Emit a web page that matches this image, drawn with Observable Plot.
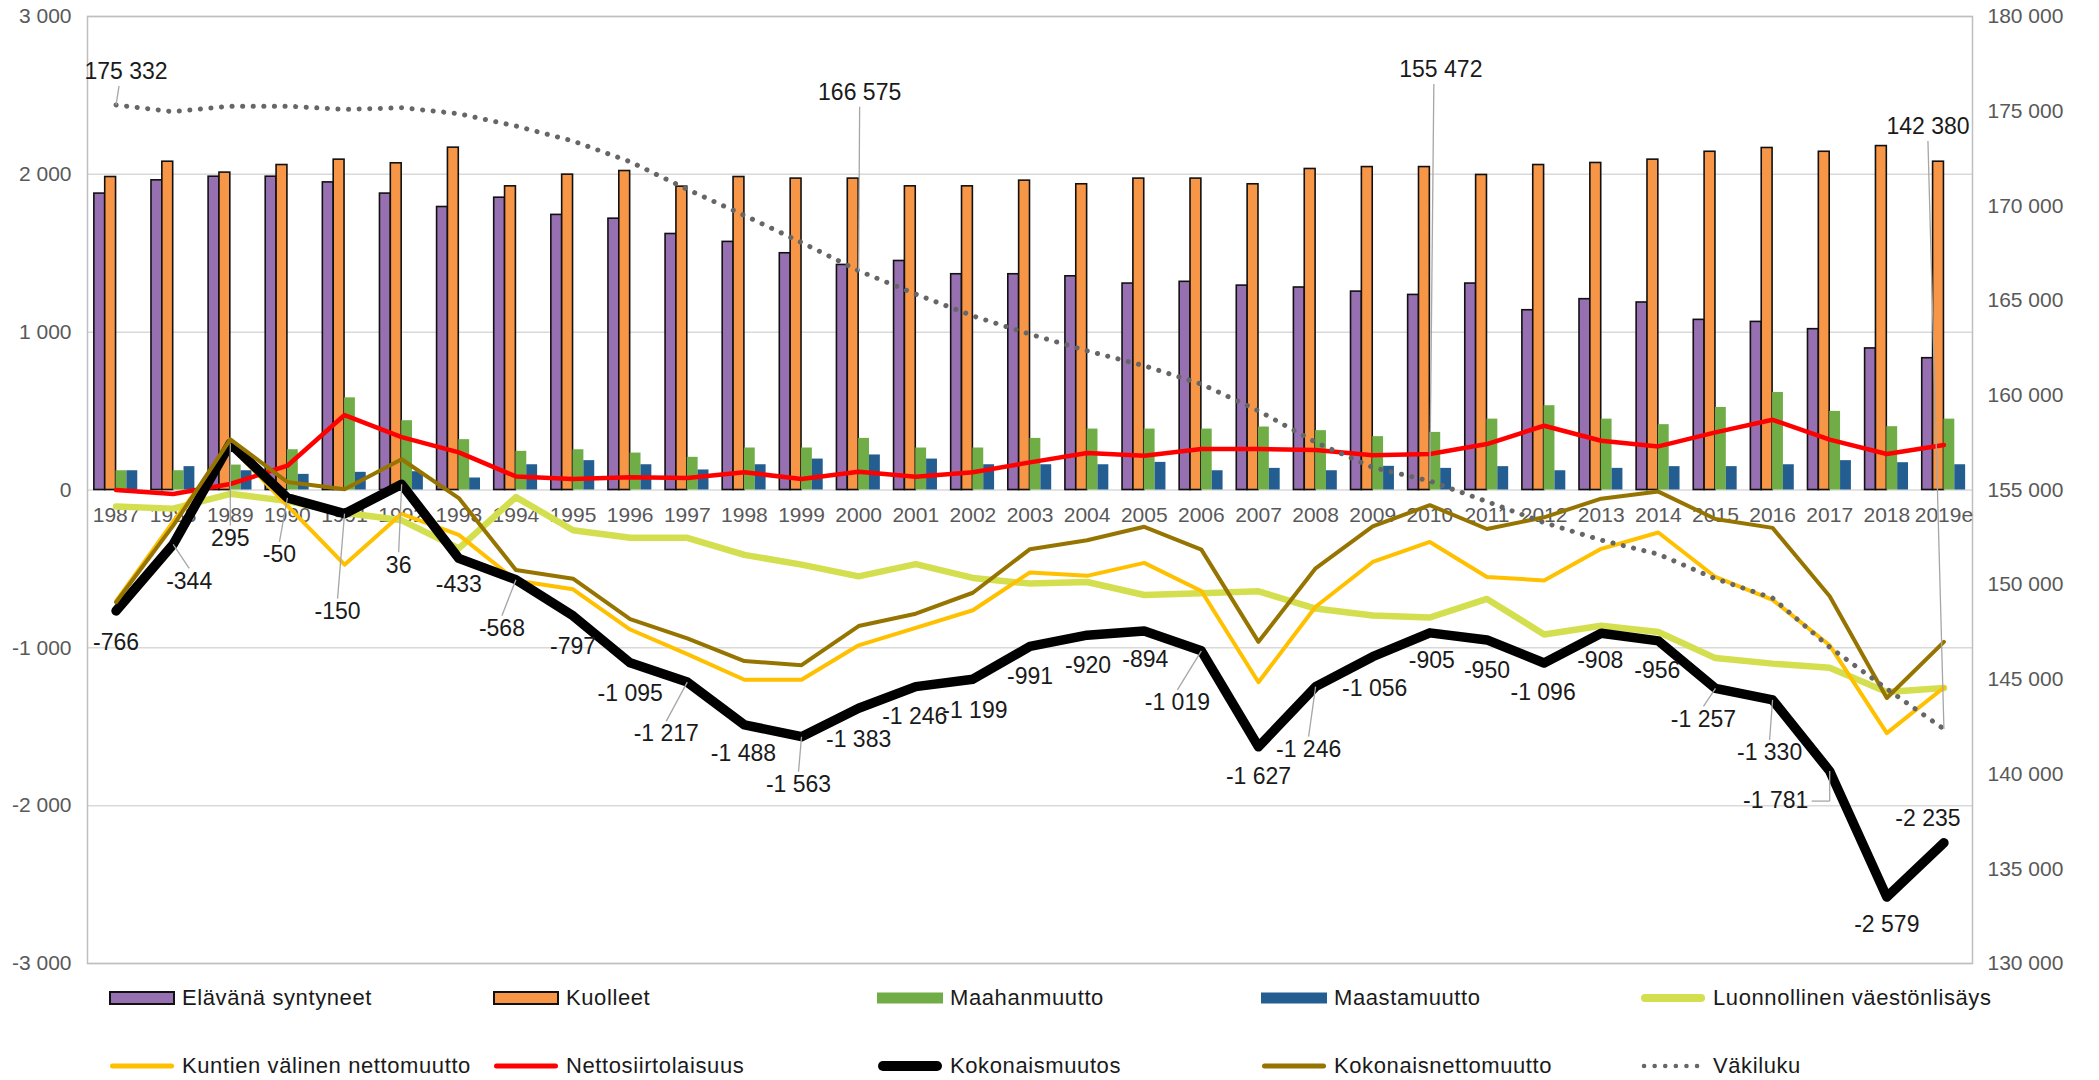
<!DOCTYPE html>
<html>
<head>
<meta charset="utf-8">
<script src="https://cdn.jsdelivr.net/npm/d3@7"></script>
<script src="https://cdn.jsdelivr.net/npm/@observablehq/plot@0.6"></script>
<style>
  html, body { margin: 0; padding: 0; background: #fff; }
  body { font-family: "Liberation Sans", Arial, sans-serif; }
  #wrap { position: relative; width: 2099px; height: 1080px; overflow: hidden; }
  #chart { position: absolute; left: 0; top: 0; }
  .lg-item { position: absolute; height: 30px; display: flex; align-items: center; }
  .lg-text { font-size: 22px; letter-spacing: 0.6px; color: #1a1a1a; white-space: nowrap; margin-left: 7px; }
</style>
</head>
<body>
<div id="wrap"><div id="chart"></div><div id="legend"></div></div>
<script>
// ---------------- DATA ----------------
const years = ["1987","1988","1989","1990","1991","1992","1993","1994","1995","1996","1997",
  "1998","1999","2000","2001","2002","2003","2004","2005","2006","2007","2008","2009",
  "2010","2011","2012","2013","2014","2015","2016","2017","2018","2019e"];

const elavanaSyntyneet = [1878,1962,1985,1985,1949,1878,1793,1852,1743,1719,1622,
  1572,1500,1426,1451,1367,1367,1354,1308,1319,1295,1283,1257,
  1236,1308,1139,1209,1188,1078,1065,1019,897,835];

const kuolleet = [1983,2080,2011,2059,2093,2070,2169,1924,1998,2021,1922,
  1983,1973,1973,1924,1924,1960,1937,1973,1973,1937,2034,2046,
  2046,1996,2059,2072,2093,2143,2167,2143,2179,2080];

const maahanmuutto = [122,122,158,255,584,439,319,245,255,234,207,
  266,266,327,266,266,327,386,386,386,399,376,338,
  365,449,534,449,414,523,618,498,401,449];

const maastamuutto = [122,148,122,99,112,116,76,160,186,160,127,
  160,196,222,196,160,160,160,175,122,137,122,150,
  137,148,122,137,148,148,160,186,173,160];

const luonnollinenLisays = [-105,-118,-24,-70,-144,-192,-370,-45,-255,-302,-303,
  -411,-473,-547,-470,-557,-593,-583,-665,-654,-642,-751,-795,
  -808,-690,-915,-860,-900,-1065,-1100,-1126,-1280,-1255];

const kuntienValinen = [-705,-200,280,-100,-473,-151,-284,-573,-629,-884,-1040,
  -1202,-1202,-984,-873,-762,-522,-544,-462,-640,-1218,-740,-456,
  -329,-551,-573,-373,-269,-551,-696,-984,-1540,-1251];

const nettosiirtolaisuus = [0,-25,38,154,475,335,238,86,70,80,76,
  112,70,116,84,112,175,234,217,260,260,253,220,
  228,291,407,312,276,365,445,319,228,285];

const kokonaismuutos = [-766,-344,295,-50,-150,36,-433,-568,-797,-1095,-1217,
  -1488,-1563,-1383,-1246,-1199,-991,-920,-894,-1019,-1627,-1246,-1056,
  -905,-950,-1096,-908,-956,-1257,-1330,-1781,-2579,-2235];

const kokonaisnettomuutto = [-711,-226,321,50,5,195,-51,-507,-562,-818,-940,
  -1084,-1110,-862,-784,-651,-375,-318,-233,-378,-962,-496,-230,
  -96,-247,-173,-55,-10,-184,-240,-673,-1318,-962];

const vakiluku = [175332,174975,175267,175267,175092,175183,174867,174217,173425,172333,170875,
  169500,168067,166575,165342,164192,163225,162350,161558,160592,159183,157517,156192,
  155472,154389,153278,152352,151611,150315,149296,146700,144500,142380];

const vakilukuLabelled = [0, 13, 23, 32];

const leftTicks = [-3000,-2000,-1000,0,1000,2000,3000];
const rightTicks = [130000,135000,140000,145000,150000,155000,160000,165000,170000,175000,180000];

const seriesNames = ["Elävänä syntyneet","Kuolleet","Maahanmuutto","Maastamuutto","Luonnollinen väestönlisäys",
  "Kuntien välinen nettomuutto","Nettosiirtolaisuus","Kokonaismuutos","Kokonaisnettomuutto","Väkiluku"];

// ---------------- LAYOUT / STYLE ----------------
const W = 2099, H = 975, ML = 87, MR = 127, MT = 16, MB = 12;
const pxX = (W - ML - MR) / years.length;     // px per category
const pxY = (H - MT - MB) / 6000;             // px per unit
// label offsets in px [dx, dy, leader?]
const labelOffsets = [
  [0,32,0],[16,37,1],[0,95,1],[-8,57,1],[-7,98,1],[-3,81,1],[0,26,0],[-14,49,1],[0,31,0],[0,31,0],[-21,52,1],
  [-1,29,0],[-3,48,1],[0,31,0],[-1,30,0],[2,31,0],[0,30,0],[1,30,0],[1,29,0],[-24,52,1],[0,30,0],[-7,63,1],[2,32,0],
  [2,28,0],[0,31,0],[-1,30,0],[-1,27,0],[-1,30,0],[-12,31,1],[-3,53,1],[-54,30,2],[0,28,0],[-16,-24,0]
];
const vakiOffsets = [[10,-33],[1,-178],[11,-411],[-16,-602]];

const colors = {
  purple: "#9670B0", orange: "#F79646", green: "#70AD47", blue: "#245E91",
  lightgreen: "#D4DF4F", yellow: "#FFC000", red: "#FF0000", black: "#000000",
  brown: "#967400", grey: "#666666"
};

// ---------------- HELPERS ----------------
const locale = d3.formatLocale({decimal: ",", thousands: "\u00a0", grouping: [3], currency: ["", " €"], minus: "-"});
const fmt = locale.format(",d");
const toLeft = v => (v - 155000) * 3 / 25;
const fromLeft = d => Math.round(155000 + d * 25 / 3);

const rows = years.map((y, i) => ({
  i, year: y,
  syn: elavanaSyntyneet[i], kuo: kuolleet[i], maa: maahanmuutto[i], mas: maastamuutto[i],
  luo: luonnollinenLisays[i], kun: kuntienValinen[i], net: nettosiirtolaisuus[i],
  kok: kokonaismuutos[i], kne: kokonaisnettomuutto[i], vak: toLeft(vakiluku[i]), vakRaw: vakiluku[i]
}));

const groupW = 0.76, barW = groupW / 4;
function barMark(key, k, fill, stroke) {
  return Plot.rect(rows, {
    x1: d => d.i - groupW / 2 + k * barW,
    x2: d => d.i - groupW / 2 + (k + 1) * barW,
    y1: () => 0,
    y2: key,
    fill,
    stroke: stroke || "none",
    strokeWidth: stroke ? 1.6 : 0
  });
}

// labels for Kokonaismuutos
const kokLabels = rows.map(d => {
  const [dx, dy, leader] = labelOffsets[d.i];
  return {...d, lx: d.i + dx / pxX, ly: d.kok - dy / pxY, dx, dy, leader};
});
const leaderLinks = [];
kokLabels.forEach(d => {
  if (d.leader === 1) {
    const s = Math.sign(d.dy);
    leaderLinks.push({x1: d.i, y1: d.kok, x2: d.lx, y2: d.kok - (d.dy - s * 13) / pxY});
  } else if (d.leader === 2) {
    leaderLinks.push({x1: d.i, y1: d.kok, x2: d.i, y2: d.ly});
    leaderLinks.push({x1: d.i, y1: d.ly, x2: d.lx + 36 / pxX, y2: d.ly});
  }
});
const vakLabels = vakilukuLabelled.map((idx, j) => {
  const d = rows[idx];
  const [dx, dy] = vakiOffsets[j];
  return {...d, lx: d.i + dx / pxX, ly: d.vak - dy / pxY, dx, dy};
});
vakLabels.forEach(d => {
  leaderLinks.push({x1: d.i, y1: d.vak, x2: d.lx - (d.dx > 5 ? 7 : 0) / pxX, y2: d.vak - (d.dy + 14) / pxY});
});

const lineOpts = (key, stroke, w, extra) => Object.assign({x: "i", y: key, stroke, strokeWidth: w, strokeLinejoin: "round", strokeLinecap: "round"}, extra || {});

const chart = Plot.plot({
  width: W, height: H,
  marginLeft: ML, marginRight: MR, marginTop: MT, marginBottom: MB,
  style: {fontFamily: '"Liberation Sans", Arial, sans-serif', fontSize: "21px", background: "white", overflow: "visible"},
  x: {type: "linear", domain: [-0.5, years.length - 0.5], axis: null},
  y: {domain: [-3000, 3000], axis: null},
  marks: [
    Plot.gridY(leftTicks, {stroke: "#D9D9D9", strokeOpacity: 1, strokeWidth: 1.5}),
    Plot.frame({stroke: "#BFBFBF", strokeWidth: 1.5}),
    Plot.axisY(leftTicks, {anchor: "left", tickSize: 0, tickPadding: 16, tickFormat: fmt, color: "#595959", fontSize: 21}),
    Plot.axisY(rightTicks.map(toLeft), {anchor: "right", tickSize: 0, tickPadding: 15, tickFormat: d => fmt(fromLeft(d)), color: "#595959", fontSize: 21}),
    barMark("syn", 0, colors.purple, "#111"),
    barMark("kuo", 1, colors.orange, "#111"),
    barMark("maa", 2, colors.green),
    barMark("mas", 3, colors.blue),
    Plot.text(rows, {x: "i", y: () => 0, dy: 25, text: "year", fill: "#595959", fontSize: 21}),
    Plot.line(rows, lineOpts("luo", colors.lightgreen, 6.5)),
    Plot.line(rows, lineOpts("kun", colors.yellow, 4)),
    Plot.line(rows, lineOpts("net", colors.red, 4.5)),
    Plot.line(rows, lineOpts("kok", colors.black, 9.5)),
    Plot.line(rows, lineOpts("kne", colors.brown, 4)),
    Plot.line(rows, lineOpts("vak", colors.grey, 5, {strokeDasharray: "0.1 10.5"})),
    Plot.link(leaderLinks, {x1: "x1", y1: "y1", x2: "x2", y2: "y2", stroke: "#A6A6A6", strokeWidth: 1.3}),
    Plot.text(kokLabels, {x: "lx", y: "ly", text: d => fmt(d.kok), fill: "#1a1a1a", fontSize: 23}),
    Plot.text(vakLabels, {x: "lx", y: "ly", text: d => fmt(d.vakRaw), fill: "#1a1a1a", fontSize: 23})
  ]
});
document.getElementById("chart").appendChild(chart);

// ---------------- LEGEND ----------------
const legendSpec = [
  {type: "bar", fill: colors.purple, border: true},
  {type: "bar", fill: colors.orange, border: true},
  {type: "bar", fill: colors.green},
  {type: "bar", fill: colors.blue},
  {type: "line", stroke: colors.lightgreen, w: 8},
  {type: "line", stroke: colors.yellow, w: 5},
  {type: "line", stroke: colors.red, w: 5},
  {type: "line", stroke: colors.black, w: 10},
  {type: "line", stroke: colors.brown, w: 5},
  {type: "dots", stroke: colors.grey, w: 4.5}
];
const colLeft = [109, 493, 877, 1261, 1640];
const rowCenter = [998, 1066];
const legend = d3.select("#legend");
seriesNames.forEach((name, i) => {
  const spec = legendSpec[i];
  const item = legend.append("div").attr("class", "lg-item")
    .style("left", colLeft[i % 5] + "px")
    .style("top", (rowCenter[Math.floor(i / 5)] - 15) + "px");
  const svg = item.append("svg").attr("width", 66).attr("height", 30);
  if (spec.type === "bar") {
    if (spec.border) svg.append("rect").attr("x", 1).attr("y", 9).attr("width", 64).attr("height", 12)
      .attr("fill", spec.fill).attr("stroke", "#111").attr("stroke-width", 2);
    else svg.append("rect").attr("x", 0).attr("y", 9.5).attr("width", 66).attr("height", 11).attr("fill", spec.fill);
  } else if (spec.type === "line") {
    svg.append("line").attr("x1", spec.w / 2 + 1).attr("x2", 66 - spec.w / 2 - 1).attr("y1", 15).attr("y2", 15)
      .attr("stroke", spec.stroke).attr("stroke-width", spec.w).attr("stroke-linecap", "round");
  } else {
    svg.append("line").attr("x1", 4).attr("x2", 62).attr("y1", 15).attr("y2", 15)
      .attr("stroke", spec.stroke).attr("stroke-width", spec.w).attr("stroke-linecap", "round")
      .attr("stroke-dasharray", "0.1 10.5");
  }
  item.append("span").attr("class", "lg-text").text(name);
});
</script>
</body>
</html>
